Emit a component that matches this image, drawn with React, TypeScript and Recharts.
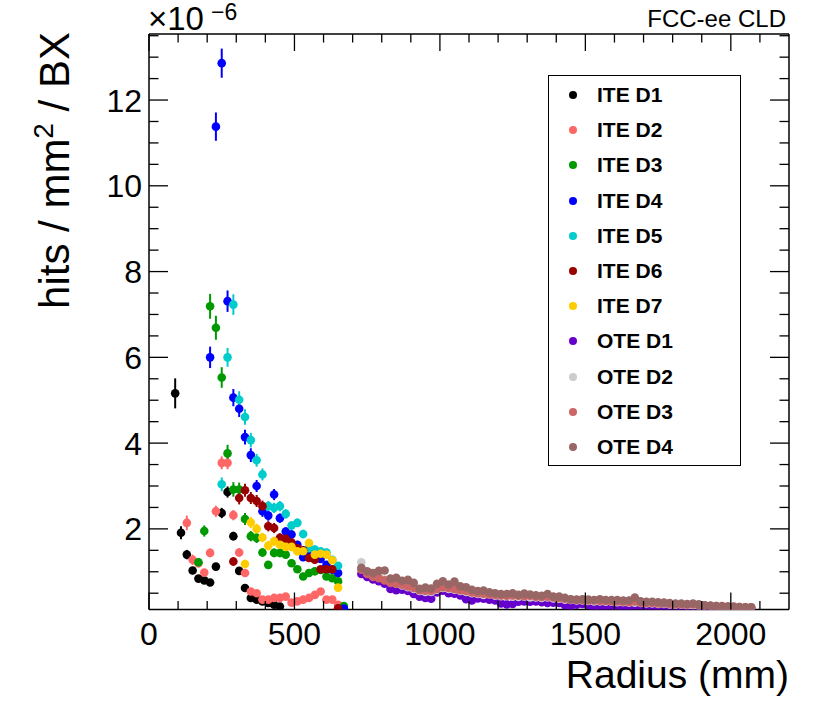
import React from 'react';
import { ErrorBar, Legend, Scatter, ScatterChart, XAxis, YAxis } from 'recharts';

// bin centres (mm)
const ITE_R = [90, 110, 130, 150, 170, 190, 210, 230, 250, 270, 290, 310, 330, 350, 370, 390, 410, 430, 450, 470,
  490, 510, 530, 550, 570, 590, 610, 630, 650, 670];
const OTE_R = [730, 750, 770, 790, 810, 830, 850, 870, 890, 910, 930, 950, 970, 990, 1010, 1030, 1050, 1070, 1090,
  1110, 1130, 1150, 1170, 1190, 1210, 1230, 1250, 1270, 1290, 1310, 1330, 1350, 1370, 1390, 1410, 1430, 1450, 1470,
  1490, 1510, 1530, 1550, 1570, 1590, 1610, 1630, 1650, 1670, 1690, 1710, 1730, 1750, 1770, 1790, 1810, 1830, 1850,
  1870, 1890, 1910, 1930, 1950, 1970, 1990, 2010, 2030, 2050, 2070];

// hits / mm2 / BX, in units of 1e-6
const _ = null;
const ITE_D1 = [5.16, 1.91, 1.4, 1.03, 0.84, 0.8, 0.75, 1.12, 2.37, 2.86, 1.83, 1.02, 0.62, 0.39, 0.35, 0.31, 0.27, 0.23, 0.19,
  _, _, _, _, _, _, _, _, _, _, _];
const ITE_D2 = [_, _, 2.14, 1.28, 1.2, 0.98, 1.44, 2.41, 3.54, 3.54, 2.32, 1.45, 0.97, 0.54, 0.5, 0.35, 0.35, 0.39, 0.39,
  0.42, 0.28, 0.31, 0.35, 0.39, 0.46, 0.54, 0.35, 0.35, 0.23, _];
const ITE_D3 = [_, _, _, _, 1.22, 1.95, 7.19, 6.69, 5.53, 3.76, 2.92, 2.92, 2.23, 1.83, 1.79, 1.45, 1.16, 1.44, 1.44, 1.4,
  1.2, 1.06, 0.89, 0.97, 1.01, 1.04, 0.89, 0.85, 0.78, 0.2];
const ITE_D4 = [_, _, _, _, _, _, 6.0, 11.38, 12.86, 7.31, 5.06, 4.8, 4.14, 3.72, 3.0, 2.41, 2.31, 2.8, 2.25, 1.94, 1.87,
  1.63, 1.34, 1.42, 1.38, 1.3, 1.16, 1.05, 0.97, 0.14];
const ITE_D5 = [_, _, _, _, _, _, _, _, 3.04, 6.0, 7.23, 5.01, 4.61, 4.07, 3.6, 3.27, 2.53, 2.49, 2.53, 2.35, 2.08, 2.14,
  1.88, 1.55, 1.52, 1.48, 1.45, 1.28, 1.14, _];
const ITE_D6 = [_, _, _, _, _, _, _, _, _, _, 1.24, 2.72, 2.9, 2.72, 2.65, 2.53, 2.06, 2.02, 1.79, 1.77, 1.68, 1.55, 1.5,
  1.32, 1.28, 1.06, 1.06, 1.06, 0.15, _];
const ITE_D7 = [_, _, _, _, _, _, _, _, _, _, _, _, 1.18, 2.15, 2.0, 1.8, 1.61, 1.71, 1.63, 1.58, 1.58, 1.48, 1.48, 1.67,
  1.4, 1.42, 1.4, 1.27, 0.63, _];

const ITE_D1_ERR = [0.35, 0.15, 0.11, 0.08, 0.07, 0.06, 0.06, 0.08, 0.12, 0.13, 0.1, 0.07, 0.05, 0.04, 0.04, 0.03, 0.03,
  0.03, 0.03, 0, 0, 0, 0, 0, 0, 0, 0, 0, 0, 0];
const ITE_D2_ERR = [0, 0, 0.17, 0.12, 0.1, 0.08, 0.1, 0.13, 0.15, 0.15, 0.12, 0.1, 0.07, 0.05, 0.05, 0.04, 0.04, 0.04,
  0.04, 0.04, 0.03, 0.03, 0.04, 0.04, 0.04, 0.05, 0.04, 0.04, 0.03, 0];
const ITE_D3_ERR = [0, 0, 0, 0, 0.1, 0.13, 0.29, 0.28, 0.24, 0.2, 0.17, 0.16, 0.14, 0.12, 0.12, 0.1, 0.09, 0.1, 0.1,
  0.09, 0.09, 0.08, 0.08, 0.08, 0.08, 0.08, 0.08, 0.07, 0.07, 0.04];
const ITE_D4_ERR = [0, 0, 0, 0, 0, 0, 0.25, 0.33, 0.34, 0.25, 0.2, 0.19, 0.17, 0.16, 0.14, 0.13, 0.12, 0.13, 0.11, 0.1,
  0.1, 0.09, 0.09, 0.09, 0.09, 0.08, 0.08, 0.08, 0.07, 0.03];
const ITE_D5_ERR = [0, 0, 0, 0, 0, 0, 0, 0, 0.16, 0.22, 0.24, 0.2, 0.18, 0.17, 0.15, 0.14, 0.12, 0.12, 0.12, 0.11, 0.1,
  0.1, 0.1, 0.09, 0.09, 0.09, 0.09, 0.08, 0.08, 0];
const ITE_D6_ERR = [0, 0, 0, 0, 0, 0, 0, 0, 0, 0, 0.1, 0.15, 0.15, 0.14, 0.14, 0.13, 0.12, 0.12, 0.11, 0.11, 0.1, 0.1,
  0.1, 0.09, 0.09, 0.08, 0.08, 0.08, 0.03, 0];
const ITE_D7_ERR = [0, 0, 0, 0, 0, 0, 0, 0, 0, 0, 0, 0, 0.1, 0.13, 0.12, 0.11, 0.11, 0.11, 0.1, 0.1, 0.1, 0.1, 0.1, 0.1,
  0.09, 0.09, 0.09, 0.09, 0.06, 0];

const OTE_D1 = [0.95, 0.88, 0.82, 0.78, 0.72, 0.6, 0.57, 0.58, 0.55, 0.48,
  0.42, 0.39, 0.37, 0.52, 0.56, 0.5, 0.49, 0.45, 0.36, 0.33,
  0.38, 0.37, 0.35, 0.33, 0.26, 0.24, 0.25, 0.3, 0.31, 0.3,
  0.31, 0.29, 0.27, 0.28, 0.27, 0.22, 0.2, 0.23, 0.25, 0.22,
  0.15, 0.16, 0.2, 0.19, 0.15, 0.14, 0.18, 0.2, 0.19, 0.18,
  0.18, 0.17, 0.16, 0.17, 0.16, 0.16, 0.15, 0.14, 0.15, 0.13,
  0.13, 0.14, 0.13, 0.13, 0.13, 0.12, 0.12, 0.12];
const OTE_D2 = [1.22, 1.0, 0.92, 0.88, 0.82, 0.76, 0.72, 0.68, 0.64, 0.6,
  0.55, 0.53, 0.53, 0.58, 0.62, 0.6, 0.58, 0.55, 0.53, 0.5,
  0.48, 0.46, 0.47, 0.44, 0.43, 0.43, 0.42, 0.41, 0.42, 0.4,
  0.4, 0.39, 0.4, 0.38, 0.37, 0.35, 0.34, 0.33, 0.33, 0.32,
  0.31, 0.31, 0.3, 0.3, 0.29, 0.29, 0.28, 0.28, 0.27, 0.26,
  0.26, 0.25, 0.25, 0.24, 0.23, 0.23, 0.22, 0.22, 0.21, 0.21,
  0.2, 0.19, 0.19, 0.18, 0.18, 0.17, 0.18, 0.17];
const OTE_D3 = [1.05, 0.95, 0.88, 0.85, 0.8, 0.74, 0.72, 0.7, 0.66, 0.62,
  0.57, 0.56, 0.55, 0.6, 0.64, 0.62, 0.6, 0.57, 0.55, 0.52,
  0.5, 0.49, 0.47, 0.46, 0.45, 0.44, 0.45, 0.44, 0.43, 0.44,
  0.42, 0.41, 0.42, 0.4, 0.39, 0.37, 0.35, 0.34, 0.34, 0.33,
  0.33, 0.32, 0.32, 0.31, 0.31, 0.3, 0.29, 0.31, 0.28, 0.27,
  0.27, 0.26, 0.26, 0.25, 0.24, 0.24, 0.23, 0.24, 0.22, 0.21,
  0.2, 0.2, 0.19, 0.19, 0.18, 0.18, 0.17, 0.17];
const OTE_D4 = [1.09, 1.01, 0.97, 1.02, 1.03, 0.84, 0.86, 0.79, 0.81, 0.74,
  0.6, 0.63, 0.61, 0.72, 0.78, 0.7, 0.77, 0.66, 0.64, 0.58,
  0.55, 0.56, 0.52, 0.5, 0.48, 0.48, 0.5, 0.46, 0.49, 0.47,
  0.45, 0.44, 0.48, 0.42, 0.42, 0.39, 0.36, 0.35, 0.36, 0.35,
  0.34, 0.36, 0.34, 0.34, 0.34, 0.33, 0.33, 0.4, 0.31, 0.3,
  0.3, 0.29, 0.28, 0.27, 0.26, 0.26, 0.25, 0.26, 0.24, 0.22,
  0.21, 0.2, 0.2, 0.19, 0.19, 0.18, 0.17, 0.17];

const X_TICKS = [0, 100, 200, 300, 400, 500, 600, 700, 800, 900, 1000, 1100, 1200, 1300, 1400, 1500, 1600, 1700, 1800,
  1900, 2000, 2100];
const Y_TICKS = [0.5, 1, 1.5, 2, 2.5, 3, 3.5, 4, 4.5, 5, 5.5, 6, 6.5, 7, 7.5, 8, 8.5, 9, 9.5, 10, 10.5, 11, 11.5, 12,
  12.5, 13, 13.5];

type Series = { name: string; color: string; r: number[]; y: (number | null)[]; e?: number[] };

const SERIES: Series[] = [
  { name: 'ITE D1', color: '#000000', r: ITE_R, y: ITE_D1, e: ITE_D1_ERR },
  { name: 'ITE D2', color: '#ff6666', r: ITE_R, y: ITE_D2, e: ITE_D2_ERR },
  { name: 'ITE D3', color: '#009900', r: ITE_R, y: ITE_D3, e: ITE_D3_ERR },
  { name: 'ITE D4', color: '#0000ff', r: ITE_R, y: ITE_D4, e: ITE_D4_ERR },
  { name: 'ITE D5', color: '#00cccc', r: ITE_R, y: ITE_D5, e: ITE_D5_ERR },
  { name: 'ITE D6', color: '#990000', r: ITE_R, y: ITE_D6, e: ITE_D6_ERR },
  { name: 'ITE D7', color: '#ffcc00', r: ITE_R, y: ITE_D7, e: ITE_D7_ERR },
  { name: 'OTE D1', color: '#6600cc', r: OTE_R, y: OTE_D1 },
  { name: 'OTE D2', color: '#cccccc', r: OTE_R, y: OTE_D2 },
  { name: 'OTE D3', color: '#cc6666', r: OTE_R, y: OTE_D3 },
  { name: 'OTE D4', color: '#996666', r: OTE_R, y: OTE_D4 },
];

const FONT = '"Liberation Sans", Arial, Helvetica, sans-serif';
const W = 830;
const H = 710;
// axes take 1px each, so the frame ends up at x 149..789, y 34..609.5
const M = { top: 33, right: 40, bottom: 99.5, left: 148 };

function rows(s: Series) {
  return s.r
    .map((r, i) => ({ x: r, y: s.y[i], e: s.e ? s.e[i] : 0 }))
    .filter((d) => d.y !== null && d.y !== undefined);
}

const dot = (color: string) => (p: any) =>
  p.cx == null ? <g /> : <circle cx={p.cx} cy={p.cy} r={4.3} fill={color} />;

const BottomTick = (p: any) => {
  const v = p.payload.value;
  const major = v % 500 === 0;
  return (
    <g>
      <line x1={p.x} x2={p.x} y1={p.y} y2={p.y - (major ? 17 : 8.5)} stroke="#000" strokeWidth={1.3} />
      {major && (
        <text x={p.x} y={p.y + 35} textAnchor="middle" fontSize={32} fontFamily={FONT} fill="#000">
          {v}
        </text>
      )}
    </g>
  );
};

const TopTick = (p: any) => {
  const major = p.payload.value % 500 === 0;
  return <line x1={p.x} x2={p.x} y1={p.y} y2={p.y + (major ? 17 : 8.5)} stroke="#000" strokeWidth={1.3} />;
};

const LeftTick = (p: any) => {
  const v = p.payload.value;
  const major = v % 2 === 0;
  return (
    <g>
      <line x1={p.x} x2={p.x + (major ? 19 : 9.5)} y1={p.y} y2={p.y} stroke="#000" strokeWidth={1.3} />
      {major && (
        <text x={p.x - 7} y={p.y + 11.5} textAnchor="end" fontSize={32} fontFamily={FONT} fill="#000">
          {v}
        </text>
      )}
    </g>
  );
};

const RightTick = (p: any) => {
  const major = p.payload.value % 2 === 0;
  return <line x1={p.x} x2={p.x - (major ? 19 : 9.5)} y1={p.y} y2={p.y} stroke="#000" strokeWidth={1.3} />;
};

function LegendBox() {
  return (
    <div
      style={{
        width: 193,
        height: 391,
        border: '1px solid #000',
        background: '#fff',
        boxSizing: 'border-box',
        position: 'relative',
        fontFamily: FONT,
      }}
    >
      {SERIES.map((s, i) => (
        <div
          key={s.name}
          style={{
            position: 'absolute',
            left: 0,
            top: 1.5 + i * 35.2,
            height: 35,
            display: 'flex',
            alignItems: 'center',
          }}
        >
          <span
            style={{
              display: 'inline-block',
              width: 8,
              height: 8,
              borderRadius: '50%',
              background: s.color,
              marginLeft: 20,
              marginRight: 20,
            }}
          />
          <span style={{ fontSize: 21, fontWeight: 'bold', color: '#000' }}>{s.name}</span>
        </div>
      ))}
    </div>
  );
}

const axisLine = { stroke: '#000', strokeWidth: 1.5 };

export default function App() {
  return (
    <div style={{ position: 'absolute', left: 0, top: 0, width: W, height: H, background: '#fff' }}>
      <ScatterChart width={W} height={H} margin={M}>
        <XAxis
          type="number"
          dataKey="x"
          domain={[0, 2200]}
          ticks={X_TICKS}
          interval={0}
          height={1}
          tickSize={0}
          tickMargin={0}
          tickLine={false}
          tick={BottomTick}
          axisLine={axisLine}
          allowDataOverflow
        />
        <XAxis
          xAxisId="top"
          orientation="top"
          type="number"
          dataKey="x"
          domain={[0, 2200]}
          ticks={X_TICKS}
          interval={0}
          height={1}
          tickSize={0}
          tickMargin={0}
          tickLine={false}
          tick={TopTick}
          axisLine={axisLine}
          allowDataOverflow
        />
        <YAxis
          type="number"
          dataKey="y"
          domain={[0.12, 13.54]}
          ticks={Y_TICKS}
          interval={0}
          width={1}
          tickSize={0}
          tickMargin={0}
          tickLine={false}
          tick={LeftTick}
          axisLine={axisLine}
          allowDataOverflow
        />
        <YAxis
          yAxisId="right"
          orientation="right"
          type="number"
          dataKey="y"
          domain={[0.12, 13.54]}
          ticks={Y_TICKS}
          interval={0}
          width={1}
          tickSize={0}
          tickMargin={0}
          tickLine={false}
          tick={RightTick}
          axisLine={axisLine}
          allowDataOverflow
        />
        <Legend
          layout="vertical"
          align="center"
          verticalAlign="middle"
          wrapperStyle={{ left: 548, top: 75, width: 193 }}
          content={() => <LegendBox />}
        />
        {SERIES.map((s) => (
          <Scatter
            key={s.name}
            name={s.name}
            data={rows(s)}
            fill={s.color}
            shape={dot(s.color)}
            isAnimationActive={false}
          >
            {s.e && (
              <ErrorBar dataKey="e" direction="y" width={0} stroke={s.color} strokeWidth={2} isAnimationActive={false} />
            )}
          </Scatter>
        ))}
      </ScatterChart>
      <svg
        width={W}
        height={H}
        style={{ position: 'absolute', left: 0, top: 0, pointerEvents: 'none' }}
        fontFamily={FONT}
      >
        <text x={148} y={30} fontSize={33}>
          ×10
        </text>
        <text x={211} y={20} fontSize={23}>
          −6
        </text>
        <text x={786} y={27} fontSize={24} textAnchor="end">
          FCC-ee CLD
        </text>
        <text x={789} y={688} fontSize={39} textAnchor="end">
          Radius (mm)
        </text>
        <text transform="translate(69,32) rotate(-90)" fontSize={42} textAnchor="end">
          hits / mm
          <tspan fontSize={28} dy={-16}>
            2
          </tspan>
          <tspan dy={16}> / BX</tspan>
        </text>
      </svg>
    </div>
  );
}
